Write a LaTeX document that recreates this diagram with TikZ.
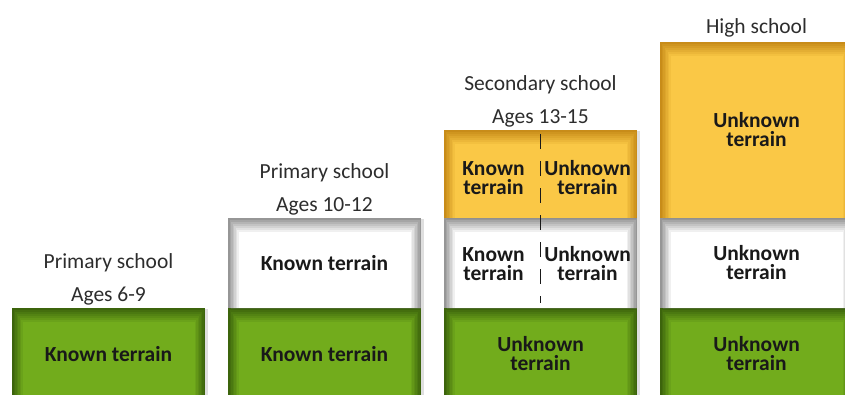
\documentclass[tikz,border=0pt]{standalone}
\usepackage{fontspec}
\setmainfont{Carlito}
\usetikzlibrary{positioning,shadows}
\definecolor{grn}{RGB}{114,172,28}
\definecolor{grndk}{RGB}{60,100,12}
\definecolor{ylw}{RGB}{250,200,70}
\definecolor{ylwdk}{RGB}{200,140,25}
\definecolor{whtdk}{RGB}{150,150,150}
\definecolor{txt}{RGB}{25,25,25}
\definecolor{captxt}{RGB}{45,45,45}
% darker rim inside a block, in steps
\newcommand{\bevel}[2]{%
  \foreach \i in {0,...,7} {
    \pgfmathsetmacro\mix{100-\i*100/7}
    \fill[#1!\mix!#2] ([xshift=\i*1.5pt, yshift=-\i*2pt]path picture bounding box.north west)
      rectangle ([xshift=-\i*1.5pt]path picture bounding box.south east);
  }
}

\begin{document}
\begin{tikzpicture}[
    x=1pt, y=1pt,
    blk/.style={rectangle, minimum width=193pt, inner sep=0pt, outer sep=0pt, align=center,
      text=txt, font=\bfseries\fontsize{21.5}{19}\selectfont,
      drop shadow={shadow xshift=3pt, shadow yshift=-1pt, opacity=0.25}},
    grnblk/.style={blk, minimum height=92pt, fill=grn, path picture={\bevel{grndk}{grn}}},
    whtblk/.style={blk, minimum height=90pt, fill=white, path picture={\bevel{whtdk}{white}}},
    ylwblk/.style={blk, minimum height=88pt, fill=ylw, path picture={\bevel{ylwdk}{ylw}}},
    caption/.style={align=center, inner sep=0pt, text=captxt, font=\fontsize{21.5}{32.5}\selectfont},
    half/.style={align=center, inner sep=0pt, text=txt, font=\bfseries\fontsize{21.5}{19}\selectfont},
    split/.style={dashed, dash pattern=on 15pt off 12pt, line width=1.3pt, draw=txt}
  ]
    \useasboundingbox (0,0) rectangle (845,394);
    % column 1
    \node[grnblk] (g1) at (108.5,40) {Known terrain};
    \node[caption, above=3pt of g1] (c1) {Primary school\\Ages 6-9};
    % column 2
    \node[grnblk, right=23pt of g1] (g2) {Known terrain};
    \node[whtblk, above=0pt of g2] (w2) {Known terrain};
    \node[caption, above=3pt of w2] (c2) {Primary school\\Ages 10-12};
    % column 3
    \node[grnblk, right=23pt of g2] (g3) {Unknown\\terrain};
    \node[whtblk, above=0pt of g3] (w3) {};
    \node[ylwblk, above=0pt of w3] (y3) {};
    \node[half] (w3k) at ([xshift=-47pt,yshift=-1pt]w3.center) {Known\\terrain};
    \node[half] (w3u) at ([xshift=47pt,yshift=-1pt]w3.center) {Unknown\\terrain};
    \node[half] (y3k) at ([xshift=-47pt,yshift=-4pt]y3.center) {Known\\terrain};
    \node[half] (y3u) at ([xshift=47pt,yshift=-4pt]y3.center) {Unknown\\terrain};
    \draw[split] ([yshift=-4pt]y3.north) -- ([yshift=5pt]w3.south);
    \node[caption, above=3pt of y3] (c3) {Secondary school\\Ages 13-15};
    % column 4
    \node[grnblk, right=23pt of g3] (g4) {Unknown\\terrain};
    \node[whtblk, above=0pt of g4] (w4) {Unknown\\terrain};
    \node[ylwblk, minimum height=176pt, above=0pt of w4] (y4) {Unknown\\terrain};
    \node[caption, above=5pt of y4] (c4) {High school};
\end{tikzpicture}
\end{document}
